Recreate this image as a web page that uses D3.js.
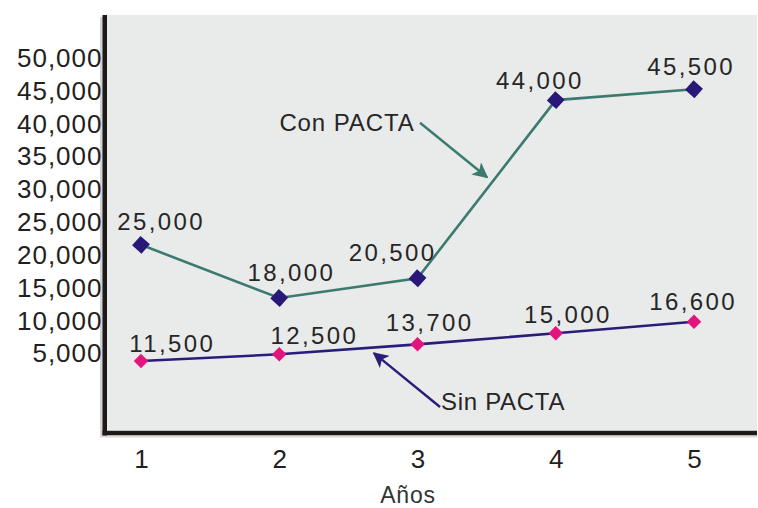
<!DOCTYPE html>
<html>
<head>
<meta charset="utf-8">
<script src="https://cdn.jsdelivr.net/npm/d3@7"></script>
<style>
  html, body { margin: 0; padding: 0; background: #ffffff; }
  svg { display: block; font-family: "Liberation Sans", Arial, sans-serif; }
</style>
</head>
<body>
<svg id="chart" width="758" height="508"></svg>
<script>
// ---- data ----
const years = [1, 2, 3, 4, 5];
const yTicks = [5000, 10000, 15000, 20000, 25000, 30000, 35000, 40000, 45000, 50000];
// printed value labels
const conLabels = [25000, 18000, 20500, 44000, 45500];
const sinLabels = [11500, 12500, 13700, 15000, 16600];
// plotted heights of the markers as drawn in the picture (on the axis scale)
const conPlotted = [21400, 13300, 16300, 43450, 45100];
const sinPlotted = [3700, 4720, 6240, 7920, 9690];
const seriesNames = ["Con PACTA", "Sin PACTA"];
const xTitle = "Años";

// ---- layout ----
const svg = d3.select("#chart");
const panel = { left: 104, right: 757, top: 15, bottom: 433 };

const x = d3.scaleLinear().domain([1, 5]).range([141, 694]);
const y = d3.scaleLinear().domain([0, 50000]).range([385.3, 57.1]);

// panel background
svg.append("rect")
  .attr("x", panel.left).attr("y", panel.top)
  .attr("width", panel.right - panel.left).attr("height", panel.bottom - panel.top)
  .attr("fill", "#e9eaea");

// light shadow strips
svg.append("rect").attr("x", 100).attr("y", 17).attr("width", 3).attr("height", 420).attr("fill", "#d4d4d4");
svg.append("rect").attr("x", 100).attr("y", 435).attr("width", 657).attr("height", 2.5).attr("fill", "#d9d9d9");

// axis lines
svg.append("rect").attr("x", 102.5).attr("y", panel.top).attr("width", 4.5).attr("height", 435.5 - panel.top).attr("fill", "#1e1a18");
svg.append("rect").attr("x", 102.5).attr("y", 430.8).attr("width", 757 - 102.5).attr("height", 4.4).attr("fill", "#1e1a18");

// y axis labels
const yAxis = d3.axisLeft(y).tickValues(yTicks).tickSize(0).tickPadding(0)
  .tickFormat(d3.format(","));
const gy = svg.append("g").attr("transform", "translate(102.5,0)").call(yAxis);
gy.select(".domain").remove();
gy.selectAll("text")
  .attr("font-size", 26).attr("fill", "#231f20")
  .attr("font-family", "Liberation Sans, Arial, sans-serif")
  .style("letter-spacing", "1px")
  .attr("dy", "0.36em");

// x axis labels
const xAxis = d3.axisBottom(x).tickValues(years).tickSize(0).tickPadding(17)
  .tickFormat(d3.format("d"));
const gx = svg.append("g").attr("transform", "translate(0,433)").call(xAxis);
gx.select(".domain").remove();
gx.selectAll("text")
  .attr("font-size", 26).attr("fill", "#231f20")
  .attr("font-family", "Liberation Sans, Arial, sans-serif");

// x title
svg.append("text")
  .attr("x", 408).attr("y", 503)
  .attr("text-anchor", "middle")
  .attr("font-size", 23).attr("fill", "#333333")
  .style("letter-spacing", "0.8px")
  .text(xTitle);

const line = d3.line().x(d => x(d[0])).y(d => y(d[1]));
const conPts = years.map((yr, i) => [yr, conPlotted[i]]);
const sinPts = years.map((yr, i) => [yr, sinPlotted[i]]);

// lines
svg.append("path").attr("d", line(conPts)).attr("fill", "none")
  .attr("stroke", "#3b7a6f").attr("stroke-width", 2.6);
svg.append("path").attr("d", line(sinPts)).attr("fill", "none")
  .attr("stroke", "#2b1b7a").attr("stroke-width", 2.6);

// markers
const conSym = d3.symbol().type(d3.symbolSquare).size(160);
const sinSym = d3.symbol().type(d3.symbolSquare).size(105);
svg.selectAll(".conm").data(conPts).join("path")
  .attr("d", conSym)
  .attr("transform", d => `translate(${x(d[0])},${y(d[1])}) rotate(42)`)
  .attr("fill", "#2a1878");
svg.selectAll(".sinm").data(sinPts).join("path")
  .attr("d", sinSym)
  .attr("transform", d => `translate(${x(d[0])},${y(d[1])}) rotate(45)`)
  .attr("fill", "#e2157f");

// value labels (nudges are layout only)
const conNudge = [[19, -23], [11, -26], [-26, -26], [-17, -20], [-4, -23]];
const sinNudge = [[30, -18], [34, -19], [11, -22], [11, -19], [-2, -20]];
const fmt = d3.format(",");
function addLabels(pts, labels, nudge) {
  svg.append("g").selectAll("text").data(pts).join("text")
    .attr("x", (d, i) => x(d[0]) + nudge[i][0] + 1.2)
    .attr("y", (d, i) => y(d[1]) + nudge[i][1])
    .attr("dy", "0.36em")
    .attr("text-anchor", "middle")
    .attr("font-size", 24).attr("fill", "#262626")
    .style("letter-spacing", "2.4px")
    .text((d, i) => fmt(labels[i]));
}
addLabels(conPts, conLabels, conNudge);
addLabels(sinPts, sinLabels, sinNudge);

// arrowheads
const defs = svg.append("defs");
function marker(id, color) {
  defs.append("marker").attr("id", id)
    .attr("viewBox", "0 0 10 10").attr("refX", 9).attr("refY", 5)
    .attr("markerWidth", 6.5).attr("markerHeight", 6.5)
    .attr("markerUnits", "strokeWidth")
    .attr("orient", "auto")
    .append("path").attr("d", "M0,0 L10,5 L0,10 L2.5,5 Z").attr("fill", color);
}
marker("arrCon", "#3b7a6f");
marker("arrSin", "#2b1b7a");

// annotation: Con PACTA
svg.append("line")
  .attr("x1", x(3.018)).attr("y1", y(40000))
  .attr("x2", x(3.503)).attr("y2", y(31700))
  .attr("stroke", "#3b7a6f").attr("stroke-width", 2.4)
  .attr("marker-end", "url(#arrCon)");
svg.append("text")
  .attr("x", x(2.97) + 1.3).attr("y", y(40000)).attr("dy", "0.36em")
  .attr("text-anchor", "end")
  .attr("font-size", 24).attr("fill", "#262626")
  .style("letter-spacing", "0.9px")
  .text(seriesNames[0]);

// annotation: Sin PACTA
svg.append("line")
  .attr("x1", x(3.163)).attr("y1", y(-3300))
  .attr("x2", x(2.685)).attr("y2", y(4900))
  .attr("stroke", "#2b1b7a").attr("stroke-width", 2.4)
  .attr("marker-end", "url(#arrSin)");
svg.append("text")
  .attr("x", x(3.17)).attr("y", y(-2450)).attr("dy", "0.36em")
  .attr("text-anchor", "start")
  .attr("font-size", 24).attr("fill", "#262626")
  .style("letter-spacing", "0.7px")
  .text(seriesNames[1]);
</script>
</body>
</html>
